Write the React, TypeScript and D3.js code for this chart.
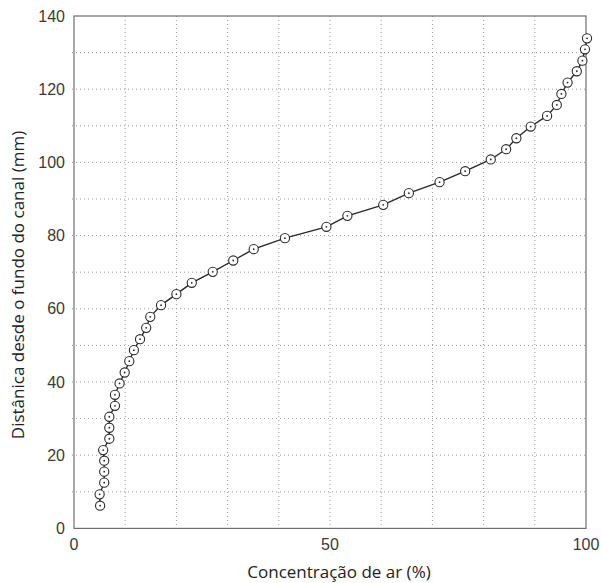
import React from "react";
import * as d3 from "d3";

const concentration = [
  5.1, 5.0, 5.9, 5.9, 5.9, 5.7, 6.9, 6.9, 6.9, 8.0, 8.0, 8.9, 9.9, 10.8, 11.7,
  12.9, 14.1, 14.9, 17.0, 20.0, 23.0, 27.1, 31.1, 35.1, 41.2, 49.3, 53.4, 60.4,
  65.4, 71.4, 76.4, 81.4, 84.4, 86.4, 89.2, 92.4, 94.3, 95.2, 96.4, 98.2, 99.3,
  99.8, 100.2,
];
const distance = [
  6.2, 9.3, 12.5, 15.5, 18.5, 21.4, 24.5, 27.5, 30.5, 33.5, 36.5, 39.6, 42.6,
  45.7, 48.7, 51.7, 54.8, 57.8, 61.0, 64.0, 67.1, 70.1, 73.2, 76.3, 79.3, 82.4,
  85.4, 88.4, 91.6, 94.6, 97.6, 100.8, 103.6, 106.6, 109.8, 112.7, 115.7,
  118.7, 121.8, 124.9, 127.8, 130.9, 133.9,
];
const xTicks = [0, 50, 100];
const yTicks = [0, 20, 40, 60, 80, 100, 120, 140];
const xGrid = [10, 20, 30, 40, 50, 60, 70, 80, 90];
const yGrid = [10, 20, 30, 40, 50, 60, 70, 80, 90, 100, 110, 120, 130];
const xTitle = "Concentração de ar (%)";
const yTitle = "Distânica desde o fundo do canal (mm)";

export default function App() {
  const W = 602;
  const H = 583;
  const left = 74;
  const right = 586;
  const top = 16;
  const bottom = 528.4;
  const x = d3.scaleLinear().domain([0, 100]).range([left, right]);
  const y = d3.scaleLinear().domain([0, 140]).range([bottom, top]);
  const pts = concentration.map((c, i) => [c, distance[i]] as [number, number]);
  const line = d3
    .line<[number, number]>()
    .x((d) => x(d[0]))
    .y((d) => y(d[1]));
  const numFont = "'Liberation Sans', Arial, sans-serif";
  const titleFont = "'Open Sans', sans-serif";
  return (
    <svg
      width={W}
      height={H}
      style={{ position: "absolute", left: 0, top: 0, background: "#fff" }}
    >
      <rect x={0} y={0} width={W} height={H} fill="#fff" />
      {xGrid.map((g) => (
        <line
          key={"xg" + g}
          x1={x(g)}
          x2={x(g)}
          y1={top}
          y2={bottom}
          stroke="#999"
          strokeWidth={1}
          strokeDasharray="1,3"
        />
      ))}
      {yGrid.map((g) => (
        <line
          key={"yg" + g}
          x1={left - 2}
          x2={right}
          y1={y(g)}
          y2={y(g)}
          stroke="#999"
          strokeWidth={1}
          strokeDasharray="1,3"
        />
      ))}
      <rect
        x={left}
        y={top}
        width={right - left}
        height={bottom - top}
        fill="none"
        stroke="#6e6e6e"
        strokeWidth={1.2}
      />
      {yTicks.map((t) => (
        <text
          key={"yt" + t}
          x={65}
          y={y(t)}
          textAnchor="end"
          dominantBaseline="central"
          fontFamily={numFont}
          fontSize={16}
          fill="#3a3a3a"
        >
          {t}
        </text>
      ))}
      {xTicks.map((t) => (
        <text
          key={"xt" + t}
          x={x(t)}
          y={544}
          textAnchor="middle"
          dominantBaseline="central"
          fontFamily={numFont}
          fontSize={16}
          fill="#3a3a3a"
        >
          {t}
        </text>
      ))}
      <path d={line(pts) || ""} fill="none" stroke="#2a2a2a" strokeWidth={1.4} />
      {pts.map((p, i) => (
        <g key={"p" + i}>
          <circle
            cx={x(p[0])}
            cy={y(p[1])}
            r={4.6}
            fill="#fff"
            stroke="#2a2a2a"
            strokeWidth={1.1}
          />
          <circle cx={x(p[0])} cy={y(p[1])} r={0.9} fill="#2a2a2a" />
        </g>
      ))}
      <text
        x={339}
        y={571}
        textAnchor="middle"
        dominantBaseline="central"
        fontFamily={titleFont}
        fontSize={17}
        fill="#222"
      >
        {xTitle}
      </text>
      <text
        transform={`translate(17,285) rotate(-90)`}
        textAnchor="middle"
        dominantBaseline="central"
        fontFamily={titleFont}
        fontSize={17}
        fill="#222"
      >
        {yTitle}
      </text>
    </svg>
  );
}
